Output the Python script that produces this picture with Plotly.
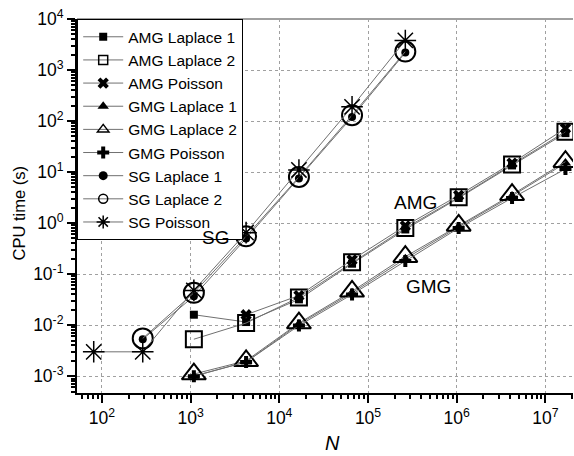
import plotly.graph_objects as go

# Problem sizes N = (2^k + 1)^2
N = [81, 289, 1089, 4225, 16641, 66049, 263169, 1050625, 4198401, 16785409]

# CPU time (s) per solver / problem
amg_laplace1 = [0.016, 0.0115, 0.032, 0.16, 0.75, 3.1, 13.5, 58]
amg_laplace2 = [0.0053, 0.011, 0.035, 0.17, 0.8, 3.2, 14, 62]
amg_poisson = [0.016, 0.038, 0.19, 0.88, 3.5, 15, 72]
gmg_laplace1 = [0.001, 0.0019, 0.0105, 0.043, 0.2, 0.85, 3.4, 15]
gmg_laplace2 = [0.0011, 0.002, 0.011, 0.046, 0.22, 0.9, 3.6, 16]
gmg_poisson = [0.001, 0.0019, 0.0098, 0.04, 0.18, 0.8, 3.1, 11.5]
sg_laplace1 = [0.0053, 0.037, 0.5, 7.5, 120, 2200]
sg_laplace2 = [0.0055, 0.043, 0.55, 8, 130, 2300]
sg_poisson = [0.003, 0.003, 0.048, 0.65, 11, 190, 3800]

series_names = ["AMG Laplace 1", "AMG Laplace 2", "AMG Poisson",
                "GMG Laplace 1", "GMG Laplace 2", "GMG Poisson",
                "SG Laplace 1", "SG Laplace 2", "SG Poisson"]

x_ticks = [1e2, 1e3, 1e4, 1e5, 1e6, 1e7]
x_tick_text = ["10<sup>2</sup>", "10<sup>3</sup>", "10<sup>4</sup>",
               "10<sup>5</sup>", "10<sup>6</sup>", "10<sup>7</sup>"]
y_ticks = [1e-3, 1e-2, 1e-1, 1e0, 1e1, 1e2, 1e3, 1e4]
y_tick_text = ["10<sup>-3</sup>", "10<sup>-2</sup>", "10<sup>-1</sup>",
               "10<sup>0</sup>", "10<sup>1</sup>", "10<sup>2</sup>",
               "10<sup>3</sup>", "10<sup>4</sup>"]

LINE = "#707070"
INK = "black"
FONT = "Liberation Sans, Arial, sans-serif"

# (values, first index into N, symbol, plot size, legend size, marker line width)
styles = [
    (amg_laplace1, 2, "square", 8, 8, 0),
    (amg_laplace2, 2, "square-open", 16, 9, 2),
    (amg_poisson, 3, "x", 10, 10, 0),
    (gmg_laplace1, 2, "triangle-up", 10, 10, 0),
    (gmg_laplace2, 2, "triangle-up-open", 21, 10, 2),
    (gmg_poisson, 2, "cross", 10, 10, 0),
    (sg_laplace1, 1, "circle", 8, 9, 0),
    (sg_laplace2, 1, "circle-open", 20, 9, 2),
    (sg_poisson, 0, "asterisk-open", 18, 11, 1.5),
]

fig = go.Figure()

for name, (vals, start, sym, size, lsize, lw) in zip(series_names, styles):
    fig.add_trace(go.Scatter(
        x=N[start:start + len(vals)], y=vals, mode="lines+markers",
        line=dict(color=LINE, width=1),
        marker=dict(symbol=sym, size=size, color=INK,
                    line=dict(color=INK, width=lw)),
        showlegend=False, name=name))

# legend entries with compact markers
for name, (vals, start, sym, size, lsize, lw) in zip(series_names, styles):
    fig.add_trace(go.Scatter(
        x=[None], y=[None], mode="lines+markers", name=name,
        line=dict(color=LINE, width=1),
        marker=dict(symbol=sym, size=lsize, color=INK,
                    line=dict(color=INK, width=min(lw, 1.5) if lw else 0))))

minor_x = [m * 10 ** e for e in range(1, 8) for m in range(2, 10)]
minor_y = [m * 10 ** e for e in range(-4, 4) for m in range(2, 10)]

fig.update_layout(
    width=574, height=456,
    margin=dict(l=77, r=1, t=19, b=63),
    paper_bgcolor="white", plot_bgcolor="white",
    font=dict(family=FONT, size=16, color="black"),
    showlegend=True,
    legend=dict(x=0, y=1, xanchor="left", yanchor="top",
                bgcolor="white", bordercolor="black", borderwidth=1.2,
                font=dict(size=15.5, family=FONT), tracegroupgap=0,
                itemwidth=40),
    xaxis=dict(type="log", range=[1.72, 7.31],
               tickmode="array", tickvals=x_ticks, ticktext=x_tick_text,
               ticks="outside", ticklen=8, tickwidth=2, tickcolor=INK,
               showline=True, linecolor=INK, linewidth=2,
               showgrid=True, gridcolor="#a0a0a0", griddash="dot", gridwidth=1,
               zeroline=False,
               minor=dict(tickmode="array", tickvals=minor_x, ticks="outside",
                          ticklen=4, tickwidth=1.5, tickcolor=INK, showgrid=False),
               tickfont=dict(size=17.5)),
    yaxis=dict(type="log", range=[-3.33, 4],
               tickmode="array", tickvals=y_ticks, ticktext=y_tick_text,
               ticks="outside", ticklen=8, tickwidth=2, tickcolor=INK,
               showline=True, linecolor=INK, linewidth=2,
               showgrid=True, gridcolor="#a0a0a0", griddash="dot", gridwidth=1,
               zeroline=False,
               minor=dict(tickmode="array", tickvals=minor_y, ticks="outside",
                          ticklen=4, tickwidth=1.5, tickcolor=INK, showgrid=False),
               tickfont=dict(size=17.5)),
    shapes=[dict(type="line", xref="paper", yref="paper", x0=0, x1=1, y0=1, y1=1,
                 line=dict(color="#a0a0a0", width=2))],
    annotations=[
        dict(text="CPU time (s)", xref="paper", yref="paper", x=-0.115, y=0.48,
             textangle=-90, showarrow=False, font=dict(size=16.5),
             xanchor="center", yanchor="middle"),
        dict(text="<i>N</i>", xref="paper", yref="paper", x=0.516, y=-0.133,
             showarrow=False, font=dict(size=20), xanchor="center", yanchor="middle"),
        dict(text="SG", x=3.28, y=-0.29, xref="x", yref="y", showarrow=False,
             font=dict(size=19), xanchor="center", yanchor="middle"),
        dict(text="AMG", x=5.53, y=0.40, xref="x", yref="y", showarrow=False,
             font=dict(size=19), xanchor="center", yanchor="middle"),
        dict(text="GMG", x=5.68, y=-1.24, xref="x", yref="y", showarrow=False,
             font=dict(size=19), xanchor="center", yanchor="middle"),
    ],
)

fig.write_html("out.html")
